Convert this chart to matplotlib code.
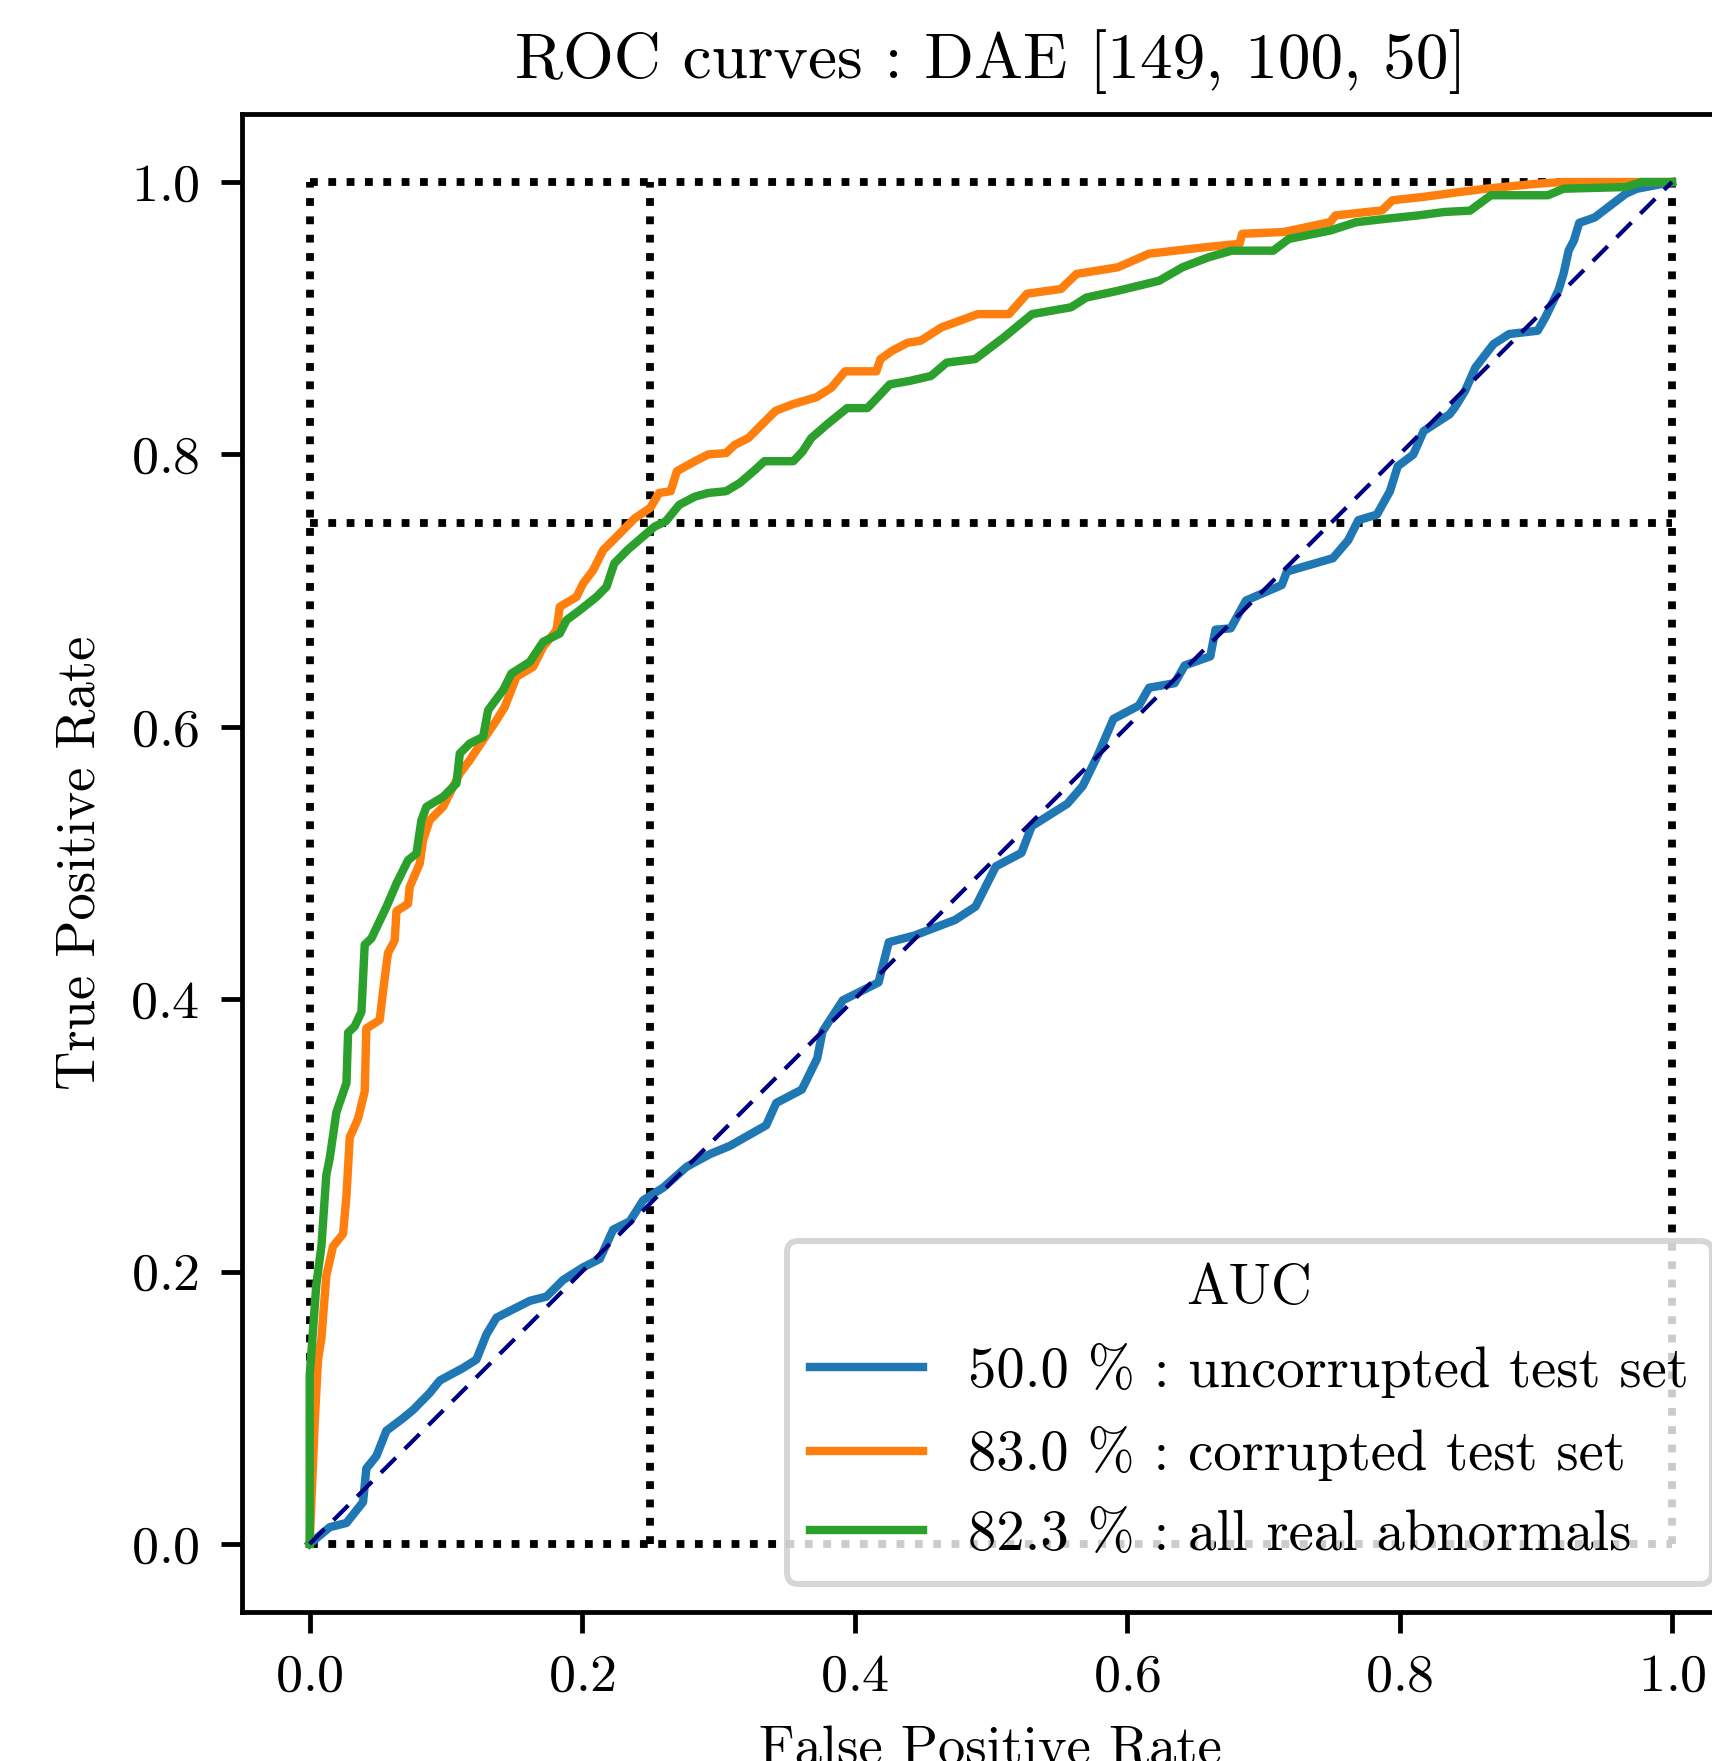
import numpy as np
import matplotlib
matplotlib.use("Agg")
import matplotlib.pyplot as plt

plt.rcParams['font.family'] = ['cmr10', 'DejaVu Serif']
plt.rcParams['mathtext.fontset'] = 'cm'
plt.rcParams['axes.formatter.use_mathtext'] = True
plt.rcParams['font.size'] = 9

# ROC curves
fpr_uncorr = [0, 0.0147, 0.027, 0.0392, 0.0416, 0.049, 0.0563, 0.0685, 0.0759, 0.0881,
              0.0955, 0.1126, 0.1224, 0.1298, 0.1371, 0.1493, 0.1616, 0.1738, 0.186, 0.2007,
              0.213, 0.2228, 0.235, 0.2448, 0.2595, 0.2767, 0.2938, 0.3085, 0.3351, 0.3425,
              0.3613, 0.3726, 0.3764, 0.3914, 0.4176, 0.4251, 0.4438, 0.4738, 0.4888, 0.5037,
              0.5225, 0.530, 0.5562, 0.5675, 0.5787, 0.590, 0.6087, 0.6162, 0.6349, 0.6424,
              0.6611, 0.6649, 0.6761, 0.6873, 0.7136, 0.7173, 0.7511, 0.7623, 0.7698, 0.7834,
              0.793, 0.7987, 0.8101, 0.8177, 0.8367, 0.8405, 0.8481, 0.8557, 0.869, 0.8805,
              0.9014, 0.9071, 0.9166, 0.9204, 0.9242, 0.928, 0.9319, 0.9433, 0.9661, 0.974, 1.0]
tpr_uncorr = [0, 0.0123, 0.0154, 0.0308, 0.0554, 0.0646, 0.0831, 0.0923, 0.0984, 0.1108,
              0.12, 0.1292, 0.1354, 0.1539, 0.1661, 0.1723, 0.1785, 0.1816, 0.1938, 0.2031,
              0.2093, 0.2308, 0.2369, 0.2523, 0.2616, 0.2769, 0.2862, 0.2923, 0.3074, 0.3238,
              0.3336, 0.3566, 0.3762, 0.3992, 0.4123, 0.4418, 0.4467, 0.4582, 0.468, 0.4975,
              0.5074, 0.527, 0.5435, 0.5566, 0.5795, 0.6058, 0.6156, 0.6287, 0.632, 0.6451,
              0.6517, 0.6713, 0.6723, 0.6927, 0.7041, 0.714, 0.7238, 0.7369, 0.7517, 0.7558,
              0.773, 0.7913, 0.7999, 0.8171, 0.8294, 0.8343, 0.8466, 0.8638, 0.881, 0.8884,
              0.8908, 0.9007, 0.9203, 0.9326, 0.9498, 0.957, 0.970, 0.974, 0.9914, 0.995, 1.0]

fpr_corr = [0, 0.0037, 0.0061, 0.0086, 0.0122, 0.0171, 0.0245, 0.027, 0.0294, 0.0355,
            0.0404, 0.0416, 0.0514, 0.0539, 0.0575, 0.0624, 0.0637, 0.0722, 0.0734, 0.0808,
            0.0832, 0.0881, 0.0979, 0.1102, 0.1175, 0.1273, 0.1371, 0.1432, 0.1518, 0.164,
            0.1714, 0.1812, 0.1836, 0.1959, 0.2007, 0.2081, 0.2154, 0.2277, 0.2385, 0.25,
            0.2565, 0.265, 0.2696, 0.2828, 0.2926, 0.3057, 0.312, 0.322, 0.342, 0.355,
            0.372, 0.383, 0.393, 0.416, 0.419, 0.4274, 0.4389, 0.4485, 0.4638, 0.4904,
            0.5133, 0.5266, 0.5515, 0.5629, 0.5933, 0.6162, 0.658, 0.6826, 0.6845, 0.7149,
            0.7492, 0.753, 0.7872, 0.7948, 0.8177, 0.8443, 0.8633, 0.9014, 0.9204, 1.0]
tpr_corr = [0, 0.0892, 0.1354, 0.1508, 0.1969, 0.2184, 0.2277, 0.2554, 0.2985, 0.3123,
            0.3323, 0.3785, 0.3847, 0.4062, 0.4339, 0.4431, 0.4646, 0.47, 0.4824, 0.4996,
            0.5167, 0.5314, 0.5412, 0.5657, 0.5755, 0.5902, 0.6048, 0.6146, 0.6367, 0.644,
            0.6587, 0.671, 0.6881, 0.6954, 0.7052, 0.715, 0.7297, 0.742, 0.753, 0.7607,
            0.7717, 0.773, 0.7877, 0.795, 0.80, 0.801, 0.807, 0.812, 0.832, 0.837,
            0.842, 0.849, 0.861, 0.861, 0.870, 0.876, 0.882, 0.8835, 0.8933, 0.903,
            0.903, 0.918, 0.9215, 0.9325, 0.9374, 0.9474, 0.9522, 0.9546, 0.962, 0.9633,
            0.9706, 0.9755, 0.9792, 0.9866, 0.9891, 0.9927, 0.9951, 0.9988, 1.0, 1.0]

fpr_real = [0, 0, 0.0049, 0.0086, 0.0122, 0.0147, 0.0196, 0.027, 0.0282, 0.033,
            0.038, 0.0404, 0.0453, 0.0563, 0.0637, 0.0722, 0.0784, 0.082, 0.0857, 0.0979,
            0.1077, 0.1102, 0.1175, 0.1273, 0.131, 0.142, 0.1481, 0.1616, 0.1714, 0.1836,
            0.1885, 0.1983, 0.2106, 0.2179, 0.2236, 0.2335, 0.2434, 0.2532, 0.2614, 0.2713,
            0.2828, 0.2926, 0.3057, 0.3157, 0.3272, 0.3338, 0.355, 0.3617, 0.3682, 0.3797,
            0.3945, 0.4093, 0.4142, 0.4258, 0.4405, 0.4561, 0.4676, 0.4885, 0.5094, 0.5303,
            0.5588, 0.5702, 0.5931, 0.6235, 0.6407, 0.6597, 0.6768, 0.7073, 0.7187, 0.7492,
            0.7681, 0.791, 0.8138, 0.8328, 0.8518, 0.8671, 0.9089, 0.9204, 0.9661, 0.9775, 1.0]
tpr_real = [0, 0.1235, 0.1907, 0.2184, 0.2707, 0.2831, 0.3169, 0.3385, 0.3754, 0.38,
            0.3907, 0.44, 0.4446, 0.4677, 0.4849, 0.502, 0.507, 0.5314, 0.5412, 0.5485,
            0.5583, 0.5804, 0.5877, 0.5926, 0.6122, 0.6269, 0.6391, 0.6477, 0.6624, 0.6685,
            0.6783, 0.6856, 0.6954, 0.7028, 0.72, 0.730, 0.7386, 0.747, 0.7509, 0.763,
            0.769, 0.7717, 0.773, 0.779, 0.7889, 0.795, 0.795, 0.802, 0.812, 0.822,
            0.834, 0.834, 0.839, 0.8514, 0.854, 0.8576, 0.8674, 0.870, 0.8858, 0.903,
            0.908, 0.9152, 0.9201, 0.9275, 0.9374, 0.9447, 0.9496, 0.9496, 0.9582, 0.9644,
            0.9705, 0.9731, 0.9755, 0.978, 0.979, 0.9903, 0.9903, 0.9951, 0.9963, 1.0, 1.0]

auc_values = [50.0, 83.0, 82.3]
set_names = ["uncorrupted test set", "corrupted test set", "all real abnormals"]
target_fpr = 0.25
target_tpr = 0.75

fig = plt.figure(figsize=(1712 / 432, 1761 / 432), dpi=432)
ax = fig.add_axes([0.1411, 0.0846, 0.8753, 0.8507])

# dotted guide lines
dot = dict(color='k', linestyle=(0, (1, 1.35)), lw=1.3)
ax.plot([0, 1], [1, 1], **dot)
ax.plot([0, 1], [0, 0], **dot)
ax.plot([0, 0], [0, 1], **dot)
ax.plot([1, 1], [0, 1], **dot)
ax.plot([target_fpr, target_fpr], [0, 1], **dot)
ax.plot([0, 1], [target_tpr, target_tpr], **dot)

curves = [(fpr_uncorr, tpr_uncorr), (fpr_corr, tpr_corr), (fpr_real, tpr_real)]
colors = ['#1f77b4', '#ff7f0e', '#2ca02c']
for (fx, ty), auc, name, c in zip(curves, auc_values, set_names, colors):
    ax.plot(fx, ty, color=c, lw=1.4, label="%.1f %% : %s" % (auc, name))

ax.plot([0, 1], [0, 1], color='navy', lw=0.7, linestyle=(0, (5, 3)))

ax.set_title("ROC curves : DAE [149, 100, 50]", fontsize=10.9)
ax.set_xlabel("False Positive Rate", fontsize=9.1)
ax.set_ylabel("True Positive Rate", fontsize=9.1)
ax.set_xticks([0, 0.2, 0.4, 0.6, 0.8, 1.0])
ax.set_yticks([0, 0.2, 0.4, 0.6, 0.8, 1.0])
ax.legend(title="AUC", loc="lower right", fontsize=9.45, title_fontsize=9.45)

fig.savefig("out.png", dpi=432)
